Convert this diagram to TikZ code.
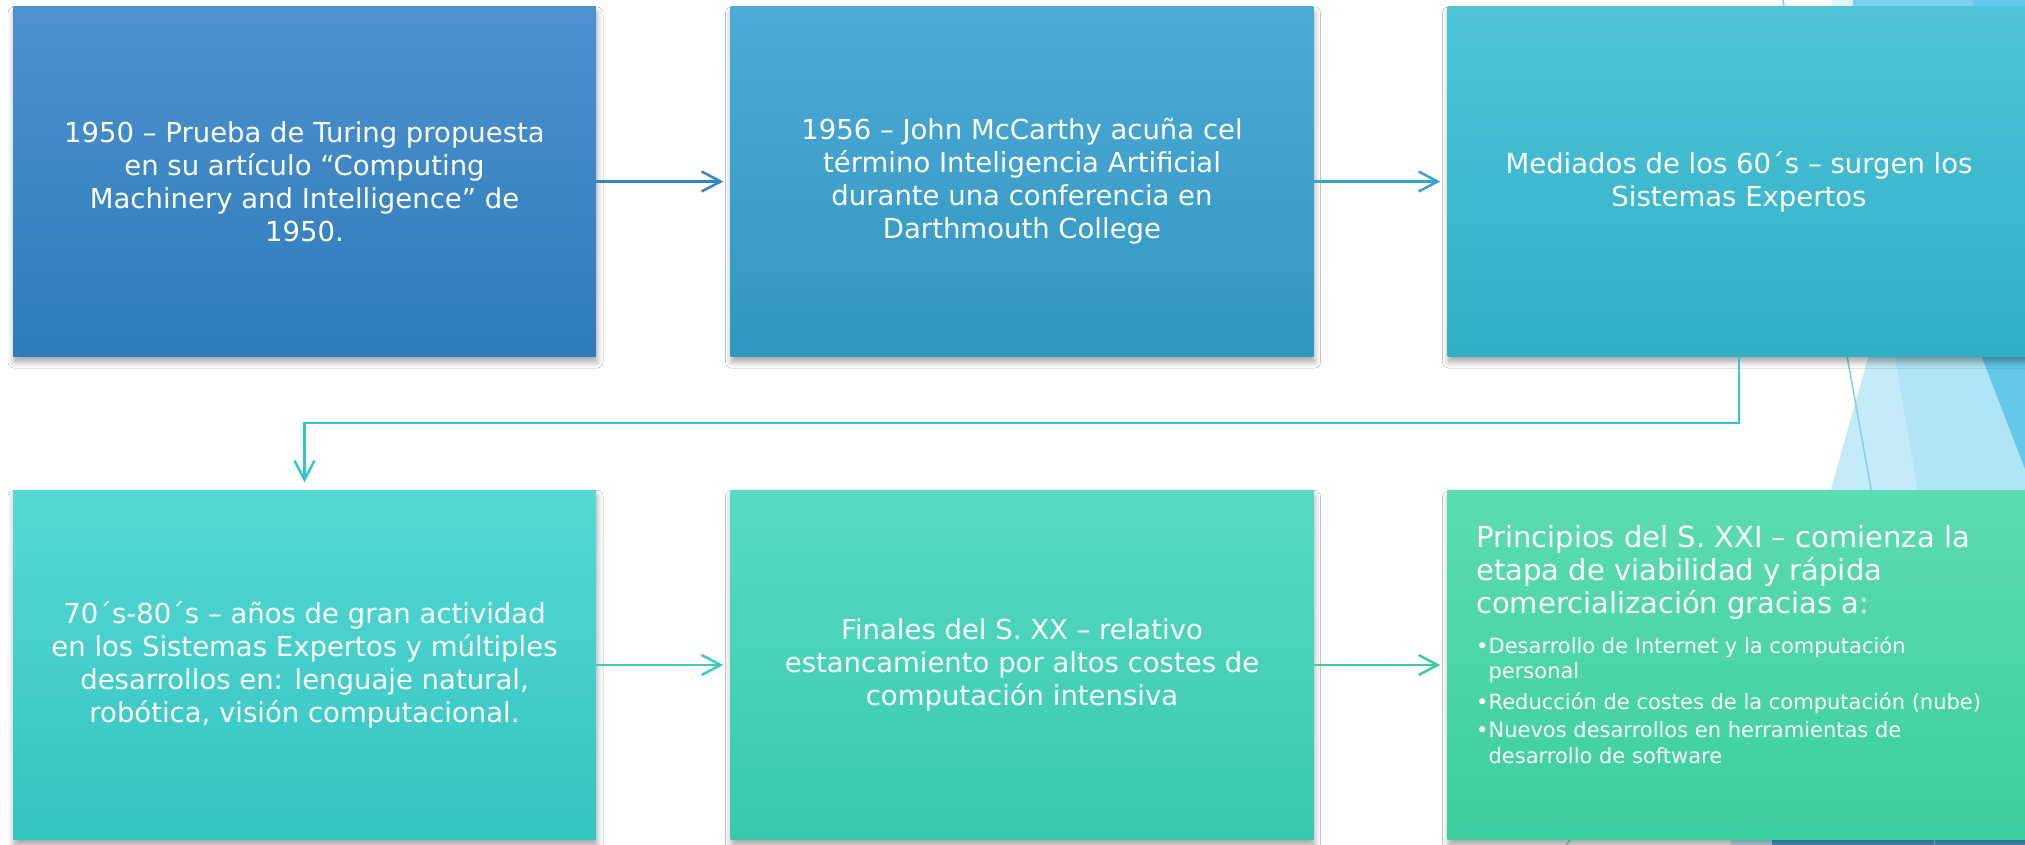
\documentclass[tikz,border=0pt]{standalone}
\usepackage{fontspec}
\setmainfont{DejaVu Sans}
\usetikzlibrary{arrows.meta,shadows.blur}
\definecolor{bA}{HTML}{4D91CF}\definecolor{bAb}{HTML}{2E7CBA}
\definecolor{bB}{HTML}{4EAAD6}\definecolor{bBb}{HTML}{2F97C1}
\definecolor{bC}{HTML}{4FC4D8}\definecolor{bCb}{HTML}{30AFC5}
\definecolor{bD}{HTML}{55D9D5}\definecolor{bDb}{HTML}{34C4C1}
\definecolor{bE}{HTML}{58DBC3}\definecolor{bEb}{HTML}{37C9AE}
\definecolor{bF}{HTML}{5CDCB0}\definecolor{bFb}{HTML}{3BCE9F}
\definecolor{lineA}{HTML}{3585C6}
\definecolor{lineB}{HTML}{35A4CF}
\definecolor{lineC}{HTML}{33C4CF}
\definecolor{lineD}{HTML}{3CCDBF}
\definecolor{lineE}{HTML}{3FCC9C}
\definecolor{decoL}{HTML}{C6EBF8}
\definecolor{decoM}{HTML}{B1E4F5}
\definecolor{decoB}{HTML}{63C8EB}
\definecolor{decoT}{HTML}{7DD0EE}
\definecolor{decoV}{HTML}{DFF3FB}
\definecolor{decoD}{HTML}{4AA8D6}
\begin{document}
\begin{tikzpicture}[x=1pt,y=-1pt,
  box/.style={rectangle, minimum width=583pt, minimum height=349pt, inner sep=0pt,
    text=white, align=center, font=\fontsize{27.5}{33}\selectfont,
    shading=axis,
    blur shadow={shadow xshift=1pt, shadow yshift=-6pt, shadow blur radius=6pt, shadow opacity=35}},
  conn/.style={line width=2.5pt, shorten >=7pt,
    -{Straight Barb[length=19pt, width=20pt, line width=2.5pt]}},
  ttl/.style={anchor=base west, inner sep=0pt, text=white, font=\fontsize{29}{33}\selectfont},
  bul/.style={anchor=base west, inner sep=0pt, text=white, font=\fontsize{21}{25}\selectfont}]
\useasboundingbox (0,0) rectangle (2025,845);
\fill[white] (0,0) rectangle (2025,845);
% background facets (right side)
\fill[decoV] (1832,0) rectangle (1853,20);
\fill[decoT] (1853,0) rectangle (1973,20);
\fill[decoB] (1973,0) rectangle (2025,20);
\fill[decoL] (1885,298) -- (1730,845) -- (2025,845) -- (2025,298) -- cycle;
\fill[decoM] (1885,298) -- (1978,845) -- (2025,845) -- (2025,298) -- cycle;
\fill[decoB] (1959,298) -- (2025,469) -- (2025,298) -- cycle;
\fill[decoD] (1772,830) rectangle (2025,845);
\draw[decoT, line width=1.5pt] (1783,0) -- (1935,845);
\draw[decoT, line width=1.2pt] (1566,845) -- (1576,832);
% boxes
\node[box, top color=bA, bottom color=bAb] (b1) at (304.5,181.5)
  {1950 – Prueba de Turing propuesta\\ en su artículo “Computing\\ Machinery and Intelligence” de\\ 1950.};
\node[box, top color=bB, bottom color=bBb] (b2) at (1022,181.5)
  {1956 – John McCarthy acuña cel\\ término Inteligencia Artificial\\ durante una conferencia en\\ Darthmouth College};
\node[box, top color=bC, bottom color=bCb] (b3) at (1739,181.5)
  {Mediados de los 60´s – surgen los\\ Sistemas Expertos};
\node[box, top color=bD, bottom color=bDb] (b4) at (304.5,665)
  {70´s-80´s – años de gran actividad\\ en los Sistemas Expertos y múltiples\\ desarrollos en: lenguaje natural,\\ robótica, visión computacional.};
\node[box, top color=bE, bottom color=bEb] (b5) at (1022,665)
  {Finales del S. XX – relativo\\ estancamiento por altos costes de\\ computación intensiva};
\node[box, top color=bF, bottom color=bFb] (b6) at (1739,665) {};
% box 6 text
\node[ttl] (t1) at (1476,547) {Principios del S. XXI – comienza la};
\node[ttl] (t2) at (1476,580) {etapa de viabilidad y rápida};
\node[ttl] (t3) at (1476,613) {comercialización gracias a:};
\node[bul] (u1) at (1476,653) {•Desarrollo de Internet y la computación};
\node[bul] (u2) at (1476,678) {\phantom{•}personal};
\node[bul] (u3) at (1476,709) {•Reducción de costes de la computación (nube)};
\node[bul] (u4) at (1476,737) {•Nuevos desarrollos en herramientas de};
\node[bul] (u5) at (1476,763) {\phantom{•}desarrollo de software};
% connectors
\draw[conn, lineA] (b1.east) -- (b2.west);
\draw[conn, lineB] (b2.east) -- (b3.west);
\draw[conn, lineC, shorten >=8pt] (b3.south) -- ++(0,67) -| (b4.north);
\draw[conn, lineD] (b4.east) -- (b5.west);
\draw[conn, lineE] (b5.east) -- (b6.west);
\end{tikzpicture}
\end{document}
